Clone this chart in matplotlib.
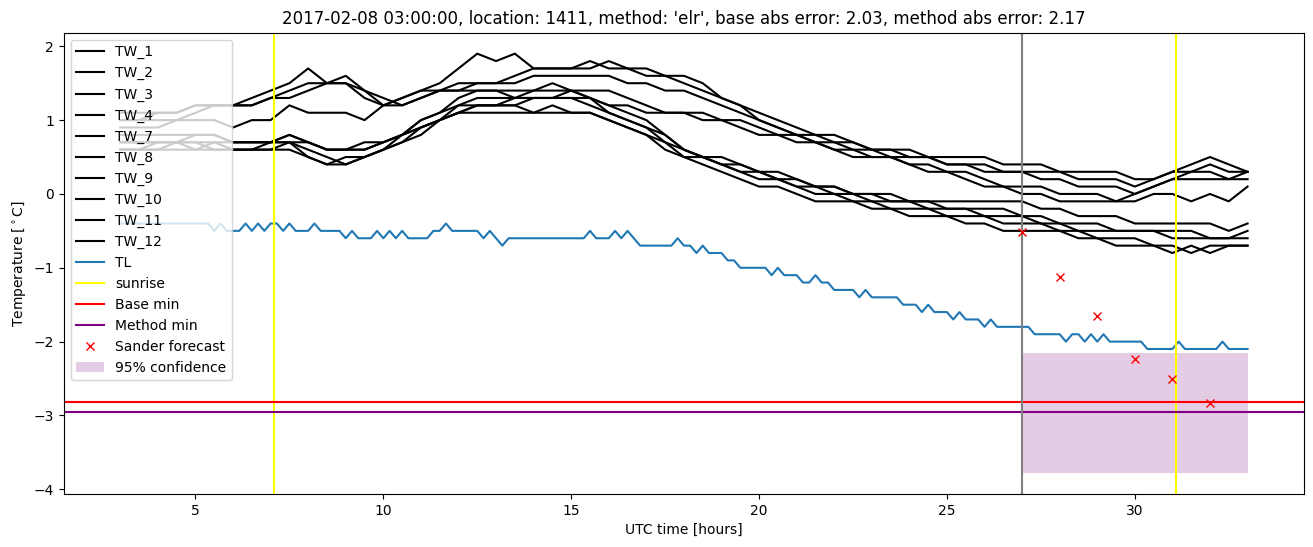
import numpy as np
import matplotlib
matplotlib.use('Agg')
import matplotlib.pyplot as plt

# water temperature sensors, sampled every 30 min from 03 to 33 UTC hours
tw_names = ['TW_1', 'TW_2', 'TW_3', 'TW_4', 'TW_7', 'TW_8', 'TW_9', 'TW_10', 'TW_11', 'TW_12']
tw_1 = [1.1, 1.1, 1.1, 1.1, 1.2, 1.2, 1.2, 1.3, 1.4, 1.5,
        1.7, 1.5, 1.5, 1.4, 1.2, 1.3, 1.4, 1.5, 1.7, 1.9,
        1.8, 1.9, 1.7, 1.7, 1.7, 1.7, 1.8, 1.7, 1.7, 1.6,
        1.6, 1.5, 1.3, 1.2, 1.0, 0.9, 0.8, 0.8, 0.7, 0.7,
        0.6, 0.6, 0.6, 0.5, 0.5, 0.5, 0.5, 0.4, 0.4, 0.4,
        0.3, 0.3, 0.3, 0.3, 0.2, 0.2, 0.3, 0.4, 0.5, 0.4,
        0.3]
tw_2 = [1.0, 1.0, 1.1, 1.1, 1.2, 1.2, 1.2, 1.2, 1.3, 1.4,
        1.5, 1.5, 1.6, 1.4, 1.3, 1.2, 1.3, 1.4, 1.5, 1.5,
        1.5, 1.6, 1.7, 1.7, 1.7, 1.8, 1.7, 1.7, 1.6, 1.6,
        1.5, 1.4, 1.3, 1.2, 1.1, 1.0, 0.9, 0.8, 0.8, 0.7,
        0.6, 0.6, 0.5, 0.5, 0.4, 0.4, 0.4, 0.3, 0.3, 0.3,
        0.3, 0.2, 0.2, 0.2, 0.1, 0.2, 0.3, 0.3, 0.3, 0.2,
        0.2]
tw_3 = [1.0, 1.0, 1.0, 1.0, 1.1, 1.2, 1.2, 1.2, 1.3, 1.3,
        1.4, 1.5, 1.5, 1.3, 1.2, 1.2, 1.3, 1.4, 1.4, 1.5,
        1.5, 1.5, 1.6, 1.6, 1.6, 1.6, 1.6, 1.5, 1.5, 1.4,
        1.4, 1.3, 1.2, 1.1, 1.0, 0.9, 0.8, 0.7, 0.6, 0.6,
        0.5, 0.5, 0.4, 0.4, 0.3, 0.3, 0.2, 0.1, 0.1, 0.1,
        0.0, 0.0, 0.0, -0.1, 0.0, 0.1, 0.2, 0.2, 0.2, 0.2,
        0.3]
tw_4 = [0.9, 0.9, 0.9, 1.0, 1.0, 1.0, 0.9, 1.0, 1.0, 1.2,
        1.1, 1.1, 1.1, 1.0, 1.2, 1.3, 1.4, 1.4, 1.4, 1.4,
        1.4, 1.3, 1.3, 1.3, 1.4, 1.3, 1.2, 1.2, 1.1, 1.1,
        1.1, 1.0, 1.0, 0.9, 0.8, 0.8, 0.7, 0.7, 0.6, 0.5,
        0.5, 0.5, 0.4, 0.3, 0.3, 0.2, 0.1, 0.1, 0.0, 0.0,
        -0.1, -0.1, -0.1, -0.1, -0.1, 0.0, 0.0, -0.1, 0.0, -0.1,
        0.1]
tw_7 = [0.8, 0.8, 0.8, 0.8, 0.8, 0.8, 0.7, 0.7, 0.7, 0.8,
        0.7, 0.6, 0.6, 0.6, 0.7, 0.8, 1.0, 1.1, 1.3, 1.4,
        1.4, 1.4, 1.4, 1.5, 1.4, 1.4, 1.4, 1.3, 1.2, 1.1,
        1.1, 1.1, 1.0, 1.0, 0.9, 0.8, 0.8, 0.7, 0.7, 0.6,
        0.6, 0.5, 0.5, 0.5, 0.4, 0.4, 0.3, 0.3, 0.3, 0.2,
        0.2, 0.1, 0.1, 0.1, 0.0, 0.1, 0.2, 0.3, 0.4, 0.3,
        0.3]
tw_8 = [0.7, 0.7, 0.7, 0.7, 0.7, 0.7, 0.7, 0.7, 0.7, 0.8,
        0.7, 0.6, 0.6, 0.6, 0.7, 0.8, 1.0, 1.1, 1.2, 1.3,
        1.3, 1.3, 1.4, 1.4, 1.4, 1.3, 1.2, 1.1, 1.0, 0.8,
        0.6, 0.5, 0.4, 0.4, 0.3, 0.3, 0.2, 0.1, 0.1, 0.0,
        0.0, 0.0, -0.1, -0.1, -0.1, -0.1, -0.1, -0.1, -0.1, -0.2,
        -0.2, -0.3, -0.3, -0.3, -0.4, -0.4, -0.4, -0.4, -0.4, -0.5,
        -0.4]
tw_9 = [0.6, 0.6, 0.6, 0.7, 0.7, 0.6, 0.6, 0.6, 0.6, 0.7,
        0.5, 0.4, 0.5, 0.5, 0.6, 0.7, 0.9, 1.0, 1.1, 1.2,
        1.2, 1.2, 1.3, 1.3, 1.3, 1.2, 1.1, 1.0, 0.9, 0.7,
        0.5, 0.5, 0.4, 0.3, 0.2, 0.2, 0.1, 0.1, 0.0, 0.0,
        -0.1, -0.1, -0.1, -0.2, -0.2, -0.2, -0.2, -0.2, -0.3, -0.4,
        -0.4, -0.5, -0.5, -0.5, -0.5, -0.5, -0.6, -0.6, -0.6, -0.6,
        -0.6]
tw_10 = [0.6, 0.6, 0.7, 0.7, 0.6, 0.6, 0.6, 0.6, 0.7, 0.7,
         0.6, 0.5, 0.4, 0.5, 0.6, 0.8, 0.9, 1.0, 1.2, 1.2,
         1.2, 1.2, 1.1, 1.1, 1.1, 1.1, 1.0, 0.9, 0.8, 0.7,
         0.6, 0.5, 0.4, 0.3, 0.3, 0.2, 0.1, 0.0, 0.0, -0.1,
         -0.1, -0.2, -0.2, -0.2, -0.3, -0.3, -0.3, -0.4, -0.4, -0.4,
         -0.5, -0.5, -0.6, -0.6, -0.6, -0.7, -0.7, -0.8, -0.7, -0.7,
         -0.7]
tw_11 = [0.7, 0.7, 0.7, 0.7, 0.8, 0.8, 0.7, 0.7, 0.7, 0.7,
         0.7, 0.6, 0.6, 0.7, 0.7, 0.8, 0.9, 1.0, 1.1, 1.1,
         1.1, 1.1, 1.1, 1.2, 1.1, 1.1, 1.0, 0.9, 0.8, 0.6,
         0.5, 0.4, 0.3, 0.2, 0.1, 0.1, 0.0, -0.1, -0.1, -0.1,
         -0.2, -0.2, -0.3, -0.3, -0.3, -0.4, -0.4, -0.5, -0.5, -0.5,
         -0.5, -0.6, -0.6, -0.7, -0.7, -0.7, -0.8, -0.7, -0.8, -0.7,
         -0.7]
tw_12 = [0.6, 0.6, 0.6, 0.6, 0.6, 0.7, 0.6, 0.6, 0.6, 0.6,
         0.5, 0.4, 0.4, 0.5, 0.6, 0.7, 0.8, 1.0, 1.1, 1.2,
         1.2, 1.3, 1.3, 1.3, 1.3, 1.3, 1.1, 1.0, 0.9, 0.8,
         0.6, 0.5, 0.5, 0.4, 0.3, 0.2, 0.2, 0.1, 0.1, 0.0,
         0.0, -0.1, -0.1, -0.1, -0.2, -0.2, -0.3, -0.3, -0.3, -0.3,
         -0.4, -0.4, -0.4, -0.5, -0.5, -0.5, -0.5, -0.5, -0.6, -0.6,
         -0.5]
tw_all = [tw_1, tw_2, tw_3, tw_4, tw_7, tw_8, tw_9, tw_10, tw_11, tw_12]

# air temperature, every 10 min (one row = one hour)
tl = [-0.4, -0.4, -0.4, -0.4, -0.4, -0.4,
      -0.4, -0.4, -0.4, -0.4, -0.4, -0.4,
      -0.4, -0.4, -0.4, -0.5, -0.4, -0.5,
      -0.5, -0.5, -0.4, -0.5, -0.4, -0.5,
      -0.4, -0.4, -0.5, -0.4, -0.5, -0.5,
      -0.5, -0.4, -0.5, -0.5, -0.5, -0.5,
      -0.6, -0.5, -0.6, -0.6, -0.6, -0.5,
      -0.6, -0.5, -0.6, -0.5, -0.6, -0.6,
      -0.6, -0.6, -0.5, -0.5, -0.4, -0.5,
      -0.5, -0.5, -0.5, -0.5, -0.6, -0.5,
      -0.6, -0.7, -0.6, -0.6, -0.6, -0.6,
      -0.6, -0.6, -0.6, -0.6, -0.6, -0.6,
      -0.6, -0.6, -0.6, -0.5, -0.6, -0.6,
      -0.6, -0.5, -0.6, -0.5, -0.6, -0.7,
      -0.7, -0.7, -0.7, -0.7, -0.7, -0.6,
      -0.7, -0.7, -0.8, -0.7, -0.8, -0.8,
      -0.8, -0.9, -0.9, -1.0, -1.0, -1.0,
      -1.0, -1.0, -1.1, -1.0, -1.1, -1.1,
      -1.1, -1.2, -1.2, -1.1, -1.2, -1.2,
      -1.3, -1.3, -1.3, -1.3, -1.4, -1.3,
      -1.4, -1.4, -1.4, -1.4, -1.4, -1.5,
      -1.5, -1.5, -1.6, -1.5, -1.6, -1.6,
      -1.6, -1.7, -1.6, -1.7, -1.7, -1.7,
      -1.8, -1.7, -1.8, -1.8, -1.8, -1.8,
      -1.8, -1.8, -1.9, -1.9, -1.9, -1.9,
      -1.9, -2.0, -1.9, -1.9, -2.0, -1.9,
      -2.0, -1.9, -2.0, -2.0, -2.0, -2.0,
      -2.0, -2.0, -2.1, -2.1, -2.1, -2.1,
      -2.1, -2.0, -2.1, -2.1, -2.1, -2.1,
      -2.1, -2.1, -2.0, -2.1, -2.1, -2.1,
      -2.1]

sunrise = [7.1, 31.1]
base_min = -2.82
method_min = -2.955
forecast_start = 27
sander_t = [27, 28, 29, 30, 31, 32]
sander_val = [-0.51, -1.12, -1.65, -2.23, -2.51, -2.83]
conf_t = [27, 33]
conf_low = -3.78
conf_high = -2.15

t_tw = np.linspace(3, 33, len(tw_1))
t_tl = np.linspace(3, 33, len(tl))

fig = plt.figure(figsize=(13.13, 5.47), dpi=100)
ax = fig.add_subplot(111)
fig.subplots_adjust(left=0.0487, right=0.9931, top=0.9402, bottom=0.0969)

for name, vals in zip(tw_names, tw_all):
    ax.plot(t_tw, vals, color='black', label=name)
ax.plot(t_tl, tl, label='TL')
ax.axvline(sunrise[0], color='yellow', label='sunrise')
ax.axvline(sunrise[1], color='yellow')
ax.axhline(base_min, color='red', label='Base min')
ax.axhline(method_min, color='purple', label='Method min')
ax.axvline(forecast_start, color='grey')
ax.plot(sander_t, sander_val, 'rx', label='Sander forecast')
ax.fill_between(conf_t, conf_low, conf_high, color='purple', alpha=0.2, linewidth=0, label='95% confidence')

ax.set_title("2017-02-08 03:00:00, location: 1411, method: 'elr', base abs error: 2.03, method abs error: 2.17")
ax.set_xlabel('UTC time [hours]')
ax.set_ylabel('Temperature [$^\\circ$C]')
ax.legend(loc='upper left')

plt.savefig('out.png', dpi=100)
plt.close()
